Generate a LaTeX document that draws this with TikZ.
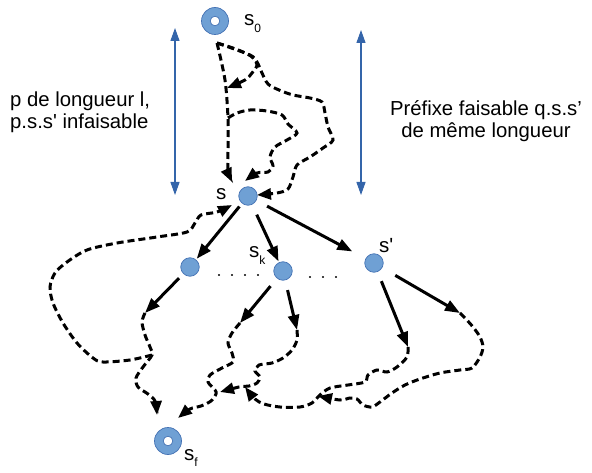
\documentclass[tikz,border=0pt]{standalone}
\usepackage{fontspec}
\setmainfont{Liberation Sans}
\usetikzlibrary{arrows.meta}
\definecolor{nodeblue}{RGB}{111,160,212}
\definecolor{nodeedge}{RGB}{68,114,180}
\definecolor{spanblue}{RGB}{52,101,170}
\newcommand{\idx}[1]{\raisebox{-0.6ex}{\fontsize{12}{12}\selectfont #1}}

\begin{document}
\begin{tikzpicture}[x=1pt,y=-1pt,
    state/.style={circle,fill=nodeblue,draw=nodeedge,line width=0.7pt,minimum size=18.5pt,inner sep=0pt},
    ring/.style={circle,fill=nodeblue,draw=nodeedge,line width=0.7pt,minimum size=27pt,inner sep=0pt,
      path picture={\draw[nodeedge,line width=0.7pt,fill=white] (path picture bounding box.center) circle (4.8pt);}},
    lbl/.style={font=\fontsize{20.5}{22}\selectfont,inner sep=0pt,anchor=base west},
    txt/.style={font=\fontsize{20.3}{22}\selectfont,inner sep=0pt},
    link/.style={line width=3pt,-{Triangle[length=15pt,width=11pt]}},
    walk/.style={line width=3pt,dash pattern=on 7pt off 4pt,-{Triangle[length=14pt,width=11pt]}},
    spanarrow/.style={spanblue,line width=1.1pt,{Triangle[length=13pt,width=9pt]}-{Triangle[length=13pt,width=9pt]}},
    dotrow/.style={line width=2.4pt,line cap=round,dash pattern=on 0.01pt off 13pt}]
  \useasboundingbox (0,0) rectangle (592,473);

  \node[ring] (s0) at (215,21) {};
  \node[state] (s) at (248,196) {};
  \node[state] (s1) at (190,267) {};
  \node[state] (sk) at (283,271) {};
  \node[state] (sp) at (374,263) {};
  \node[ring] (sf) at (168,441) {};

  \node[lbl] (ls0) at (244,26) {s\idx{0}};
  \node[lbl] (ls) at (216,200) {s};
  \node[lbl] (lsk) at (249,258) {s\idx{k}};
  \node[lbl] (lsp) at (379,253) {s\textquotesingle};
  \node[lbl] (lsf) at (184,460) {s\idx{f}};

  \node[txt,anchor=north west,align=left] (prefl) at (10,92)
    {p de longueur l,\\p.s.s\textquotesingle{} infaisable};
  \node[txt,anchor=north,align=center] (prefr) at (486,100)
    {Préfixe faisable q.s.s'\\de même longueur};

  \coordinate (lt) at (175,28);
  \coordinate (lb) at (175,195);
  \coordinate (rt) at (361,30);
  \coordinate (rb) at (361,195);
  \draw[spanarrow] (lt) -- (lb);
  \draw[spanarrow] (rt) -- (rb);

  \coordinate (e1) at (145,313);
  \coordinate (e2) at (240,323);
  \coordinate (e3) at (297,330);
  \coordinate (e4) at (408,347);
  \coordinate (e5) at (460,313);
  \begin{scope}[link]
    \draw[shorten <=4pt,shorten >=1pt] (s) -- (s1);
    \draw[shorten <=11pt,shorten >=1pt] (s) -- (sk);
    \draw[shorten <=12pt,shorten >=15pt] (s) -- (sp);
    \draw[shorten <=6pt] (s1) -- (e1);
    \draw[shorten <=10pt] (sk) -- (e2);
    \draw[shorten <=10pt] (sk) -- (e3);
    \draw[shorten <=10pt] (sp) -- (e4);
    \draw[shorten <=15pt] (sp) -- (e5);
  \end{scope}

  \draw[dotrow] ([xshift=29pt,yshift=-8pt]s1.center) -- ([xshift=-24pt,yshift=-4pt]sk.center);
  \draw[dotrow] ([xshift=27pt,yshift=-6pt]sk.center) -- ([xshift=-25pt,yshift=-14pt]sp.center);

  \coordinate (a0) at (217,43);
  \coordinate (m1) at (227,88);
  \coordinate (m2) at (228,118);
  \coordinate (m3) at (152,355);
  \coordinate (m4) at (220,392);
  \coordinate (m5) at (245,387);
  \coordinate (m6) at (318,396);
  \coordinate (in1) at (232,182);
  \coordinate (in2) at (245,181);
  \coordinate (in3) at (257,195);
  \coordinate (in4) at (232,205);
  \coordinate (inf1) at (157,415);
  \coordinate (inf2) at (178,418);
  \begin{scope}[walk]
    \draw plot[smooth] coordinates {(a0) (225,80) (m2) (228,150) (228,170) (in1)};
    \draw plot[smooth] coordinates {(a0) (230,47) (243,52) (252,57) (257,65) (252,73) (245,80) (m1)};
    \draw plot[smooth] coordinates {(m2) (237,113) (250,110) (267,111) (282,115) (288,124) (297,133)
      (287,140) (275,147) (270,157) (273,166) (268,172) (257,173) (in2)};
    \draw plot[smooth] coordinates {(a0) (250,55) (257,62) (262,73) (268,84) (279,90) (293,95) (310,98)
      (322,102) (325,113) (328,127) (333,140) (323,148) (310,157) (297,165) (293,177) (288,189)
      (277,193) (in3)};
    \draw plot[smooth] coordinates {(m3) (130,360) (103,362) (93,358) (77,343) (63,323) (53,303)
      (50,287) (55,273) (67,262) (87,250) (117,243) (157,237) (187,232) (195,223) (201,215)
      (217,212) (in4)};
    \draw plot[smooth] coordinates {(e1) (142,322) (145,335) (150,347) (m3) (143,367) (136,378)
      (138,387) (148,394) (155,401) (inf1)};
    \draw plot[smooth] coordinates {(e2) (232,333) (228,343) (232,353) (233,362) (222,368) (210,375)
      (208,382) (215,390) (216,394) (211,401) (201,406) (190,409) (inf2)};
    \draw plot[smooth] coordinates {(e3) (297,340) (292,350) (283,358) (272,363) (259,365) (255,371)
      (260,377) (257,383) (249,386) (239,387) (m4)};
    \draw plot[smooth] coordinates {(e4) (407,357) (397,367) (387,372) (377,370) (368,375) (365,382)
      (348,385) (330,388) (320,395) (312,403) (300,407) (280,407) (264,404) (255,399) (m5)};
    \draw plot[smooth] coordinates {(e5) (465,318) (473,327) (480,337) (483,347) (480,357) (472,368)
      (460,370) (440,373) (420,379) (405,385) (392,393) (380,402) (372,407) (363,405) (357,399)
      (350,398) (340,400) (m6)};
  \end{scope}
\end{tikzpicture}
\end{document}
